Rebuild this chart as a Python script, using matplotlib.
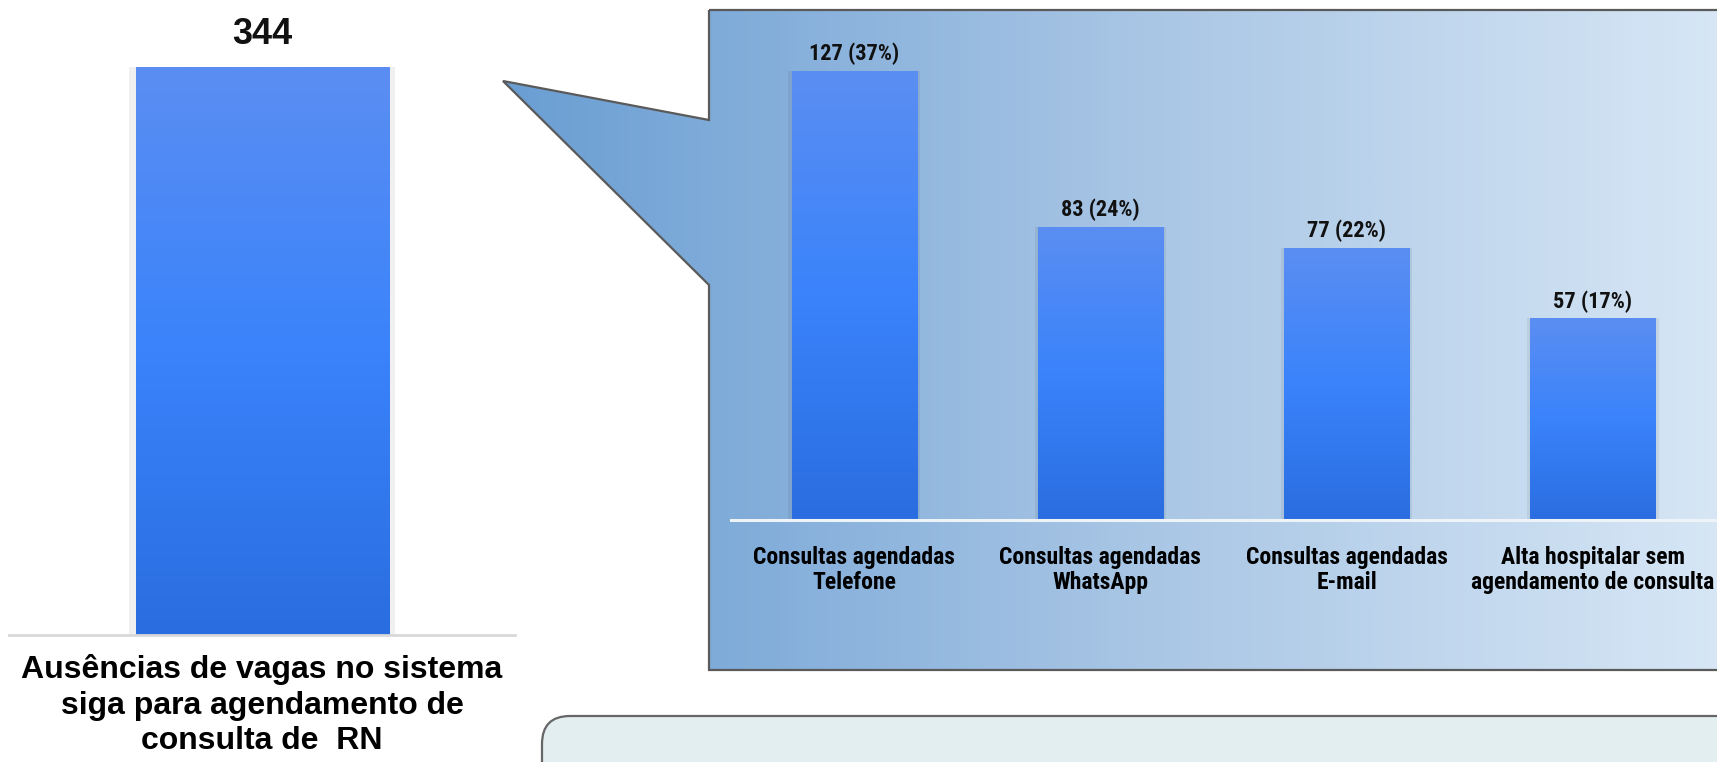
import os
import numpy as np
import matplotlib
matplotlib.use("Agg")
import matplotlib.pyplot as plt
from matplotlib.patches import Polygon, FancyBboxPatch
from matplotlib.colors import LinearSegmentedColormap
from matplotlib import font_manager as fm

# ---------------- data ----------------
total_label = "Ausências de vagas no sistema\nsiga para agendamento de\nconsulta de  RN"
total_value = 344

categories = ["Consultas agendadas\nTelefone",
              "Consultas agendadas\nWhatsApp",
              "Consultas agendadas\nE-mail",
              "Alta hospitalar sem\nagendamento de consulta"]
values = [127, 83, 77, 57]
percents = [37, 24, 22, 17]

# ---------------- fonts ----------------
def find_condensed_bold():
    prefs = ["liberationsansnarrow-bold", "arialnarrowbold", "arialn",
             "robotocondensed-bold", "opensanscondensed-bold", "opensans_condensed-bold",
             "dejavusanscondensed-bold", "notosans-condensedbold", "notosanscondensed-bold"]
    files = [f.fname for f in fm.fontManager.ttflist]
    low = {os.path.basename(f).lower().rsplit(".", 1)[0]: f for f in files}
    for p in prefs:
        if p in low:
            return fm.FontProperties(fname=low[p])
    for k, f in low.items():
        if ("narrow" in k or "condensed" in k) and "bold" in k and "semi" not in k and "extra" not in k:
            return fm.FontProperties(fname=f)
    return fm.FontProperties(family="DejaVu Sans", stretch="condensed", weight="bold")

narrow_fp = find_condensed_bold()
wide = "Liberation Sans"

W, H = 1717, 762
fig = plt.figure(figsize=(W / 100, H / 100), dpi=100)
fig.patch.set_facecolor("white")

# background axes in pixel coordinates
bg = fig.add_axes([0, 0, 1, 1], zorder=0)
bg.set_xlim(0, W)
bg.set_ylim(H, 0)
bg.axis("off")

# callout shape with pointer
callout_pts = [(709, 10), (1725, 10), (1725, 670), (709, 670),
               (709, 285), (503, 81), (709, 120)]
callout = Polygon(callout_pts, closed=True, facecolor="none",
                  edgecolor="#5a5a5a", linewidth=1.6, zorder=2)
bg.add_patch(callout)
grad_cmap = LinearSegmentedColormap.from_list("callout", ["#6a9ed3", "#a6c4e4", "#d6e6f5"])
img = bg.imshow(np.linspace(0, 1, 256)[None, :], cmap=grad_cmap, aspect="auto",
                extent=(503, W, 670, 10), zorder=1, interpolation="bilinear")
img.set_clip_path(callout)

# bottom rounded box
bbox = FancyBboxPatch((542, 716), 1300, 200, boxstyle="round,pad=0,rounding_size=28",
                      facecolor="#e3eef1", edgecolor="#666666", linewidth=1.6, zorder=1)
bg.add_patch(bbox)
bg.set_xlim(0, W)
bg.set_ylim(H, 0)

bar_cmap = LinearSegmentedColormap.from_list("bar", ["#2a6de0", "#3a83fb", "#5b8ef2"])


def gradient_bars(ax, bars):
    for b in bars:
        x0, y0 = b.get_x(), b.get_y()
        w, h = b.get_width(), b.get_height()
        # soft shadow
        ax.bar(x0 + w / 2, h, width=w * 1.05, color="#000000", alpha=0.06, zorder=1)
        im = ax.imshow(np.linspace(0, 1, 256)[:, None], cmap=bar_cmap, aspect="auto",
                       extent=(x0, x0 + w, y0, y0 + h), origin="lower", zorder=2,
                       interpolation="bilinear")
        im.set_clip_path(b)
        b.set_facecolor("none")


# ---------------- left chart ----------------
axL = fig.add_axes([9 / W, 1 - 635 / H, (515 - 9) / W, (635 - 67) / H], zorder=3)
axL.patch.set_alpha(0)
barsL = axL.bar([0], [total_value], width=1.0, color="#3a83fb", zorder=2)
gradient_bars(axL, barsL)
axL.set_xlim(-1, 1)
axL.set_ylim(0, total_value)
for s in ["top", "right", "left"]:
    axL.spines[s].set_visible(False)
axL.spines["bottom"].set_color("#d9d9d9")
axL.spines["bottom"].set_linewidth(2)
axL.set_yticks([])
axL.set_xticks([0])
axL.set_xticklabels([total_label], fontsize=23, fontweight="bold", family=wide,
                    linespacing=1.24)
axL.tick_params(axis="x", length=0, pad=14)
axL.text(0, total_value + 14, str(total_value), ha="center", va="baseline",
         fontsize=26, fontweight="bold", family=wide, color="#111111", clip_on=False)

# ---------------- right chart ----------------
axR = fig.add_axes([731 / W, 1 - 520 / H, (1716 - 731) / W, (520 - 71) / H], zorder=3)
axR.patch.set_alpha(0)
x = np.arange(len(values))
barsR = axR.bar(x, values, width=0.508, color="#3a83fb", zorder=2)
gradient_bars(axR, barsR)
axR.set_xlim(-0.5, len(values) - 0.5)
axR.set_ylim(0, max(values))
for s in ["top", "right", "left"]:
    axR.spines[s].set_visible(False)
axR.spines["bottom"].set_color("#eef3f8")
axR.spines["bottom"].set_linewidth(2.2)
axR.set_yticks([])
axR.set_xticks(x)
cat_fp = narrow_fp.copy()
cat_fp.set_size(17)
axR.set_xticklabels(categories, fontproperties=cat_fp, linespacing=1.1)
axR.tick_params(axis="x", length=0, pad=19)
val_fp = narrow_fp.copy()
val_fp.set_size(16)
for xi, v, p in zip(x, values, percents):
    axR.text(xi, v + 3, f"{v} ({p}%)", ha="center", va="baseline",
             fontproperties=val_fp, color="#111111", clip_on=False)

fig.savefig("out.png", dpi=100)
